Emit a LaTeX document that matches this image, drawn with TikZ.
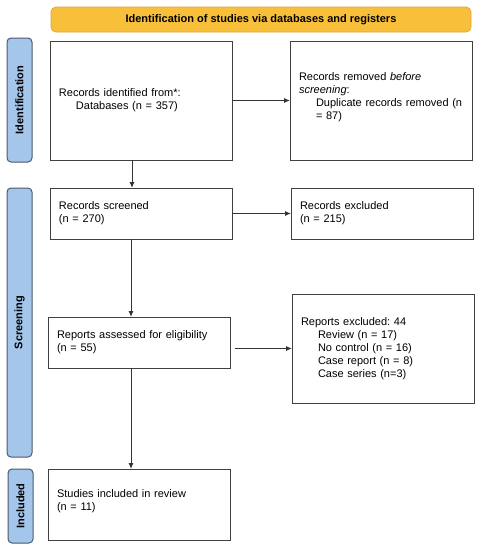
\documentclass[tikz,border=0pt]{standalone}
\usepackage{fontspec}
\setmainfont{Liberation Sans}
\usepackage{tikz}
\usetikzlibrary{calc,positioning,arrows.meta}
\definecolor{headfill}{HTML}{F7BF3A}
\definecolor{headline}{HTML}{E3A535}
\definecolor{barfill}{HTML}{A4C6EA}
\definecolor{barline}{HTML}{4A5A6E}
\newcommand{\ind}{\hspace*{17pt}}
\newcommand{\liftup}{\\[-5pt]\mbox{}}
\frenchspacing

\begin{document}
\begin{tikzpicture}[
      x=1pt, y=-1pt,
      box/.style={draw=black!75, line width=1pt, anchor=north west, align=left,
        inner xsep=9pt, outer sep=0pt, text width=164pt, minimum height=#1,
        font={\fontsize{11}{13}\selectfont}},
      head/.style={draw=headline, fill=headfill, rounded corners=5pt, line width=0.8pt,
        minimum width=420pt, minimum height=25pt,
        font={\bfseries\fontsize{11}{13}\selectfont}},
      bar/.style={draw=barline, fill=barfill, rounded corners=4pt, line width=1pt,
        rotate=90, minimum width=#1, minimum height=25pt,
        font={\bfseries\fontsize{11}{13}\selectfont}},
      arr/.style={draw=black!80, line width=1pt, -{Latex[length=6pt,width=5pt]}}
  ]
  \useasboundingbox (0,0) rectangle (481,550);

  % header and phase bars
  \node[head] (header) at (261,19.5) {Identification of studies via databases and registers};
  \node[bar=124pt] (phaseid) at (19.5,100) {Identification};
  \node[bar=269pt] (phasescr) at (19.5,322.5) {Screening};
  \node[bar=74pt] (phaseinc) at (20.5,506) {Included};

  % boxes
  \node[box=119pt] (ident) at (50,41) {Records identified from*:\\ \ind Databases (n = 357)};
  \node[box=119pt] (removed) at (290,41) {Records removed \textit{before}\\ \textit{screening}:\\
    \ind Duplicate records removed (n\\ \ind = 87)\liftup};
  \node[box=51pt] (screened) at (50,188) {Records screened\\ (n = 270)};
  \node[box=51pt] (excluded) at (291,188) {Records excluded\\ (n = 215)};
  \node[box=51pt] (assessed) at (48,317) {Reports assessed for eligibility\\ (n = 55)};
  \node[box=109pt] (repexcl) at (292,294) {Reports excluded: 44\\ \ind Review (n = 17)\\
    \ind No control (n = 16)\\ \ind Case report (n = 8)\\ \ind Case series (n=3)};
  \node[box=71pt] (included) at (48,469) {Studies included in review\\ (n = 11)\liftup};

  % arrows
  \draw[arr] (ident.east) -- (removed.west);
  \draw[arr] (screened.east) -- (excluded.west);
  \draw[arr, shorten <=5pt] (assessed.east |- repexcl.west) -- (repexcl.west);
  \draw[arr] ([xshift=-9pt]ident.south) -- ([xshift=-9pt]ident.south |- screened.north);
  \draw[arr] ([xshift=-10pt]screened.south) -- ([xshift=-10pt]screened.south |- assessed.north);
  \draw[arr] ([xshift=-8pt]assessed.south) -- ([xshift=-8pt]assessed.south |- included.north);

\end{tikzpicture}
\end{document}
